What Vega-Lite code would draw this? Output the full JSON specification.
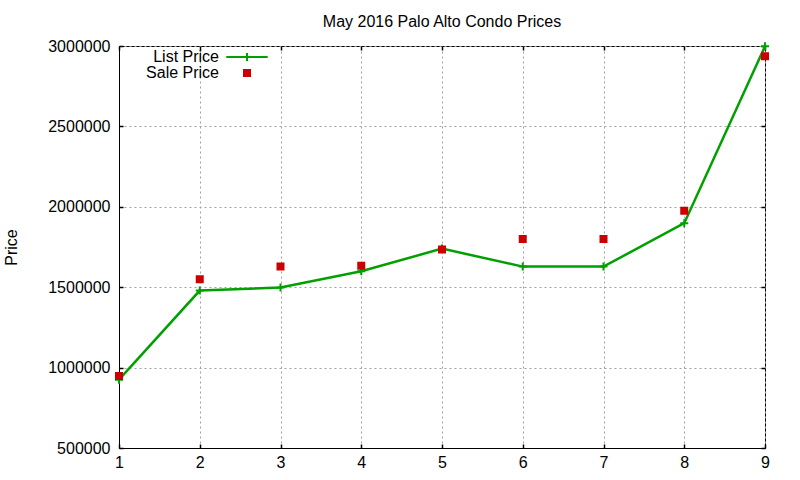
{
  "$schema": "https://vega.github.io/schema/vega-lite/v6.json",
  "description": "May 2016 Palo Alto Condo Prices",
  "autosize": {"type": "none"},
  "width": 646,
  "height": 402,
  "padding": {"left": 119, "top": 46, "right": 35, "bottom": 32},
  "background": "white",
  "title": {
    "text": "May 2016 Palo Alto Condo Prices",
    "font": "Liberation Sans",
    "fontSize": 16,
    "fontWeight": "normal",
    "color": "black",
    "anchor": "middle",
    "frame": "group",
    "offset": 8
  },
  "config": {
    "view": {"stroke": "black", "strokeWidth": 1},
    "axis": {
      "labelFont": "Liberation Sans",
      "labelFontSize": 16,
      "labelColor": "black",
      "labelFlush": false,
      "titleFont": "Liberation Sans",
      "titleFontSize": 16,
      "titleFontWeight": "normal",
      "titleColor": "black",
      "domainColor": "black",
      "tickColor": "black",
      "tickSize": -4,
      "tickWidth": 1.5,
      "gridColor": "#a0a0a0",
      "gridDash": [2, 3],
      "gridOpacity": 1,
      "gridWidth": 1
    }
  },
  "data": {
    "values": [
      {"x": 1, "series": "List Price", "price": 925000},
      {"x": 2, "series": "List Price", "price": 1479000},
      {"x": 3, "series": "List Price", "price": 1498000},
      {"x": 4, "series": "List Price", "price": 1599000},
      {"x": 5, "series": "List Price", "price": 1740000},
      {"x": 6, "series": "List Price", "price": 1628000},
      {"x": 7, "series": "List Price", "price": 1628000},
      {"x": 8, "series": "List Price", "price": 1898000},
      {"x": 9, "series": "List Price", "price": 2998000},
      {"x": 1, "series": "Sale Price", "price": 948000},
      {"x": 2, "series": "Sale Price", "price": 1550000},
      {"x": 3, "series": "Sale Price", "price": 1628000},
      {"x": 4, "series": "Sale Price", "price": 1634000},
      {"x": 5, "series": "Sale Price", "price": 1735000},
      {"x": 6, "series": "Sale Price", "price": 1800000},
      {"x": 7, "series": "Sale Price", "price": 1800000},
      {"x": 8, "series": "Sale Price", "price": 1975000},
      {"x": 9, "series": "Sale Price", "price": 2937000}
    ]
  },
  "resolve": {"axis": {"x": "independent", "y": "independent"}},
  "layer": [
    {
      "transform": [{"filter": "datum.series === 'List Price'"}],
      "mark": {"type": "line", "color": "#00a000", "strokeWidth": 2.5, "clip": true},
      "encoding": {
        "x": {
          "field": "x",
          "type": "quantitative",
          "scale": {"domain": [1, 9], "nice": false, "zero": false},
          "axis": {
            "values": [1, 2, 3, 4, 5, 6, 7, 8, 9],
            "format": "d",
            "title": null,
            "labelPadding": 10,
            "grid": true
          }
        },
        "y": {
          "field": "price",
          "type": "quantitative",
          "scale": {"domain": [500000, 3000000], "nice": false, "zero": false},
          "axis": {
            "values": [500000, 1000000, 1500000, 2000000, 2500000, 3000000],
            "format": "d",
            "title": "Price",
            "titlePadding": 28,
            "labelPadding": 13,
            "grid": true
          }
        }
      }
    },
    {
      "transform": [{"filter": "datum.series === 'List Price'"}],
      "mark": {
        "type": "point",
        "shape": "M-1,0H1M0,-1V1",
        "color": "#00a000",
        "filled": false,
        "strokeWidth": 2,
        "size": 64,
        "opacity": 1,
        "clip": false
      },
      "encoding": {
        "x": {"field": "x", "type": "quantitative", "axis": null},
        "y": {"field": "price", "type": "quantitative", "axis": null}
      }
    },
    {
      "transform": [{"filter": "datum.series === 'Sale Price'"}],
      "mark": {"type": "point", "opacity": 1, "size": 36, "strokeWidth": 2, "clip": false},
      "encoding": {
        "x": {
          "field": "x",
          "type": "quantitative",
          "axis": {
            "orient": "top",
            "values": [1, 2, 3, 4, 5, 6, 7, 8, 9],
            "labels": false,
            "domain": false,
            "grid": false,
            "title": null
          }
        },
        "y": {
          "field": "price",
          "type": "quantitative",
          "axis": {
            "orient": "right",
            "values": [500000, 1000000, 1500000, 2000000, 2500000, 3000000],
            "labels": false,
            "domain": false,
            "grid": false,
            "title": null
          }
        },
        "color": {
          "field": "series",
          "type": "nominal",
          "scale": {"domain": ["List Price", "Sale Price"], "range": ["#00a000", "#cc0000"]},
          "legend": {
            "title": null,
            "orient": "none",
            "legendX": 120,
            "legendY": 3,
            "padding": 0,
            "symbolSize": 36,
            "symbolStrokeWidth": 2,
            "rowPadding": -4,
            "labelFont": "Liberation Sans",
            "labelFontSize": 16,
            "labelColor": "black",
            "labelAlign": "right",
            "labelOffset": -36
          }
        },
        "shape": {
          "field": "series",
          "type": "nominal",
          "scale": {"domain": ["List Price", "Sale Price"], "range": ["M-6.9,0H6.9M0,-1.33V1.33", "square"]},
          "legend": null
        },
        "fill": {
          "field": "series",
          "type": "nominal",
          "scale": {"domain": ["List Price", "Sale Price"], "range": ["transparent", "#cc0000"]},
          "legend": null
        }
      }
    }
  ]
}
